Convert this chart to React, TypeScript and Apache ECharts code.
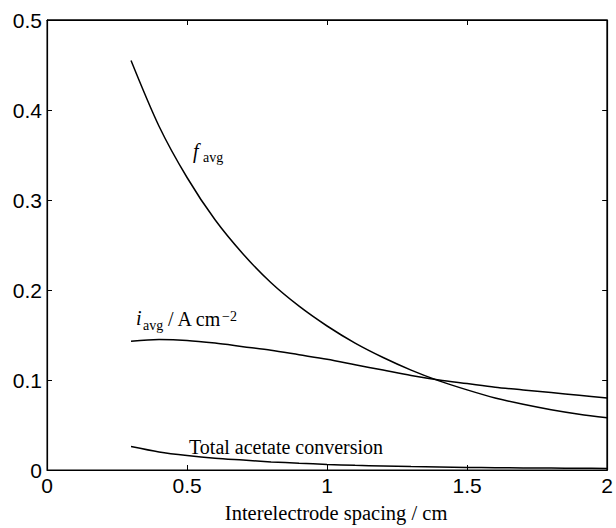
import React, { useEffect, useRef } from "react";
import * as echarts from "echarts";

const spacing = [0.3, 0.4, 0.5, 0.6, 0.7, 0.8, 0.9, 1.0, 1.1, 1.2, 1.3, 1.4, 1.5, 1.6, 1.7, 1.8, 1.9, 2.0];
const fAvg = [0.455, 0.382, 0.325, 0.278, 0.240, 0.208, 0.182, 0.160, 0.141, 0.125, 0.111, 0.099, 0.089, 0.080, 0.073, 0.067, 0.062, 0.058];
const iAvg = [0.143, 0.145, 0.144, 0.141, 0.137, 0.133, 0.128, 0.123, 0.117, 0.111, 0.105, 0.100, 0.096, 0.092, 0.089, 0.086, 0.083, 0.080];
const acetate = [0.026, 0.020, 0.016, 0.013, 0.011, 0.009, 0.0075, 0.0062, 0.0052, 0.0045, 0.0038, 0.0033, 0.0029, 0.0026, 0.0023, 0.0021, 0.0019, 0.0018];
const frame = [[0, 0.5], [2, 0.5], [2, 0]];

const serif = "Liberation Serif";
const sans = "Liberation Sans";

function pairs(ys: number[]) {
  return spacing.map((x, i) => [x, ys[i]]);
}

function fmt(v: number) {
  return String(Math.round(v * 10) / 10);
}

export default function App() {
  const ref = useRef<HTMLDivElement>(null);
  useEffect(() => {
    if (!ref.current) return;
    const chart = echarts.init(ref.current, undefined, { renderer: "svg" });
    const axisCommon = {
      axisLine: { show: true, onZero: false, lineStyle: { color: "#000", width: 1.2 } },
      axisTick: { show: true, inside: true, length: 5, lineStyle: { color: "#000" } },
      splitLine: { show: false },
    };
    const lineSeries = (name: string, ys: number[]) => ({
      name,
      type: "line",
      data: pairs(ys),
      smooth: 0.3,
      showSymbol: false,
      symbol: "none",
      lineStyle: { color: "#000", width: 1.5 },
      xAxisIndex: 0,
      yAxisIndex: 0,
    });
    chart.setOption({
      animation: false,
      backgroundColor: "#fff",
      grid: { left: 47, right: 6, top: 20, bottom: 56, show: true, borderColor: "#000", borderWidth: 1, backgroundColor: "rgba(0,0,0,0)" },
      xAxis: [
        {
          type: "value", min: 0, max: 2, interval: 0.5, position: "bottom",
          ...axisCommon,
          axisLabel: { color: "#000", fontFamily: sans, fontSize: 21, margin: 5, formatter: (v: number) => fmt(v) },
          name: "Interelectrode spacing / cm",
          nameLocation: "middle",
          nameGap: 32,
          nameTextStyle: { color: "#000", fontFamily: serif, fontSize: 20.5, padding: [0, 0, 0, 18] },
        },
        {
          type: "value", min: 0, max: 2, interval: 0.5, position: "top",
          ...axisCommon,
          axisLabel: { show: false },
        },
      ],
      yAxis: [
        {
          type: "value", min: 0, max: 0.5, interval: 0.1, position: "left",
          ...axisCommon,
          axisLabel: { color: "#000", fontFamily: sans, fontSize: 21, margin: 5, formatter: (v: number) => fmt(v) },
        },
        {
          type: "value", min: 0, max: 0.5, interval: 0.1, position: "right",
          ...axisCommon,
          axisLabel: { show: false },
        },
      ],
      series: [
        lineSeries("f_avg", fAvg),
        lineSeries("i_avg", iAvg),
        lineSeries("Total acetate conversion", acetate),
        {
          name: "frame",
          type: "line",
          data: frame,
          clip: false,
          showSymbol: false,
          symbol: "none",
          silent: true,
          lineStyle: { color: "#000", width: 1.2 },
          xAxisIndex: 1,
          yAxisIndex: 1,
        },
      ],
    });

    const txt = (x: number, y: number, text: string, size: number, italic = false) => ({
      type: "text",
      x, y,
      style: {
        text, fill: "#000", fontFamily: serif, fontSize: size,
        fontStyle: italic ? "italic" : "normal",
        textAlign: "left", textVerticalAlign: "top",
      },
    });
    chart.setOption({
      graphic: [
        txt(193, 140.5, "f", 20, true),
        txt(203, 150, "avg", 14),
        txt(136, 308, "i", 20, true),
        txt(143, 318.5, "avg", 14),
        txt(168, 309, "/ A cm", 20),
        txt(222, 309.5, "−2", 14),
        txt(189, 436.5, "Total acetate conversion", 20),
      ],
    });
    return () => chart.dispose();
  }, []);
  return <div ref={ref} style={{ position: "fixed", left: 0, top: 0, width: 616, height: 528 }} />;
}
